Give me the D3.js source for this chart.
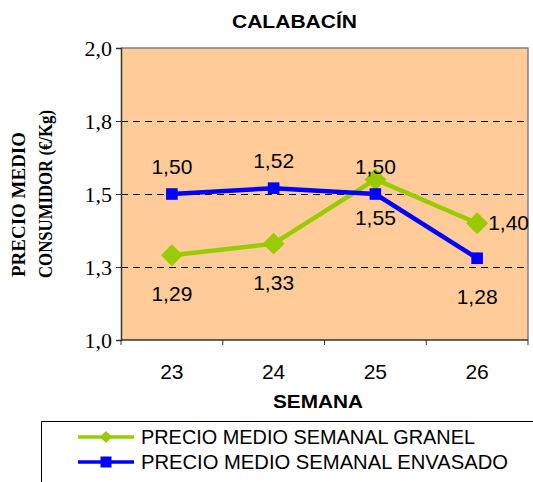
<!DOCTYPE html>
<html lang="es">
<head>
<meta charset="UTF-8">
<title>Calabacín</title>
<script src="https://cdn.jsdelivr.net/npm/d3@7"></script>
<style>
  body { margin: 0; background: #fff; }
  svg { display: block; }
</style>
</head>
<body>
<div id="chart"></div>
<script>
// datos
var semanas = ['23', '24', '25', '26'];
var granel = [1.29, 1.33, 1.55, 1.40];
var envasado = [1.50, 1.52, 1.50, 1.28];
var yTicks = [1.0, 1.25, 1.5, 1.75, 2.0];
var yTickLabels = ['1,0', '1,3', '1,5', '1,8', '2,0'];
var granelLabelPos = ['below', 'below', 'below', 'right'];
var envasadoLabelPos = ['above', 'above', 'above', 'below'];

var width = 533, height = 482;
var m = {left: 121, top: 48, right: 5, bottom: 142};
var pw = width - m.left - m.right;
var ph = height - m.top - m.bottom;
var sans = '"Liberation Sans", Arial, sans-serif';
var serif = '"Liberation Serif", "Times New Roman", serif';

var svg = d3.select('#chart').append('svg').attr('width', width).attr('height', height);

var x = d3.scaleBand().domain(semanas).range([m.left, m.left + pw]);
var y = d3.scaleLinear().domain([1, 2]).range([m.top + ph, m.top]);

// fondo
svg.append('rect').attr('x', m.left).attr('y', m.top).attr('width', pw).attr('height', ph)
   .attr('fill', '#FFCC99');

// lineas de guia
svg.selectAll('.grid').data(yTicks.slice(1, 4)).enter().append('line')
   .attr('x1', m.left).attr('x2', m.left + pw)
   .attr('y1', d => Math.round(y(d)) + 0.5).attr('y2', d => Math.round(y(d)) + 0.5)
   .attr('stroke', '#000').attr('stroke-width', 1).attr('stroke-dasharray', '7,5');

// borde arriba y derecha
svg.append('path')
   .attr('d', 'M' + m.left + ',' + m.top + 'H' + (m.left + pw) + 'V' + (m.top + ph))
   .attr('fill', 'none').attr('stroke', '#808080').attr('stroke-width', 1.5);

// eje y
var yAxis = d3.axisLeft(y).tickValues(yTicks).tickSize(5).tickPadding(4)
   .tickFormat((d, i) => yTickLabels[i]);
var gy = svg.append('g').attr('transform', 'translate(' + m.left + ',0)').call(yAxis);
gy.select('.domain').attr('stroke', '#333').attr('stroke-width', 1.5);
gy.selectAll('.tick line').attr('stroke', '#333');
gy.selectAll('text').attr('font-family', serif)
   .attr('font-size', 22).attr('fill', '#000').attr('dy', '0.34em');

// eje x
var gx = svg.append('g').attr('transform', 'translate(0,' + (m.top + ph) + ')');
gx.append('line').attr('x1', m.left).attr('x2', m.left + pw).attr('stroke', '#333').attr('stroke-width', 1.5);
var bounds = semanas.map(s => x(s)).concat([m.left + pw]);
gx.selectAll('.xt').data(bounds).enter().append('line')
   .attr('x1', d => d).attr('x2', d => d).attr('y1', 0).attr('y2', 5).attr('stroke', '#333');
gx.selectAll('.xl').data(semanas).enter().append('text')
   .attr('x', d => x(d) + x.bandwidth() / 2).attr('y', 39)
   .attr('text-anchor', 'middle').attr('font-family', sans)
   .attr('font-size', 21).text(d => d);

// titulos
svg.append('text').attr('x', 232).attr('y', 28)
   .attr('font-family', sans).attr('font-weight', 'bold')
   .attr('font-size', 18).attr('textLength', 125).attr('lengthAdjust', 'spacingAndGlyphs')
   .text('CALABACÍN');
svg.append('text').attr('x', 273).attr('y', 408)
   .attr('font-family', sans).attr('font-weight', 'bold')
   .attr('font-size', 19).attr('textLength', 90).attr('lengthAdjust', 'spacingAndGlyphs')
   .text('SEMANA');
var yt = svg.append('g').attr('transform', 'rotate(-90)')
   .attr('font-family', serif).attr('font-weight', 'bold').attr('font-size', 19);
yt.append('text').attr('x', -277).attr('y', 25)
   .attr('textLength', 145).attr('lengthAdjust', 'spacingAndGlyphs').text('PRECIO MEDIO');
yt.append('text').attr('x', -278).attr('y', 52)
   .attr('textLength', 168).attr('lengthAdjust', 'spacingAndGlyphs').text('CONSUMIDOR (€/Kg)');

// series
var cx = d => x(d) + x.bandwidth() / 2;
var line = d3.line().x((d, i) => cx(semanas[i])).y(d => y(d));

function serie(vals, color, rombo, pos) {
  svg.append('path').datum(vals).attr('d', line)
     .attr('fill', 'none').attr('stroke', color).attr('stroke-width', 4.5);
  var sym = d3.symbol().type(d3.symbolSquare).size(rombo ? 240 : 135);
  svg.selectAll(null).data(vals).enter().append('path')
     .attr('d', sym)
     .attr('transform', (d, i) => 'translate(' + cx(semanas[i]) + ',' + y(d) + ')' +
        (rombo ? ' rotate(45)' : ''))
     .attr('fill', color);
  svg.selectAll(null).data(vals).enter().append('text')
     .attr('x', (d, i) => cx(semanas[i]) + (pos[i] === 'right' ? 11 : 0))
     .attr('y', (d, i) => y(d) + (pos[i] === 'above' ? -20 : pos[i] === 'below' ? 46 : 7))
     .attr('text-anchor', (d, i) => pos[i] === 'right' ? 'start' : 'middle')
     .attr('font-family', sans).attr('font-size', 21)
     .text(d => d3.format('.2f')(d).replace('.', ','));
}
serie(granel, '#99CC00', true, granelLabelPos);
serie(envasado, '#0000FF', false, envasadoLabelPos);

// leyenda
var lg = svg.append('g');
lg.append('path').attr('d', 'M41.5,482V421.5H533').attr('fill', 'none').attr('stroke', '#000').attr('stroke-width', 1);
var items = [
  {name: 'PRECIO MEDIO SEMANAL GRANEL', color: '#99CC00', rombo: true, len: 334},
  {name: 'PRECIO MEDIO SEMANAL ENVASADO', color: '#0000FF', rombo: false, len: 367}
];
items.forEach(function(it, i) {
  var yy = 437 + i * 25;
  lg.append('line').attr('x1', 78).attr('x2', 134).attr('y1', yy).attr('y2', yy)
     .attr('stroke', it.color).attr('stroke-width', 3.5);
  lg.append('path').attr('d', d3.symbol().type(d3.symbolSquare).size(it.rombo ? 75 : 121))
     .attr('transform', 'translate(106,' + yy + ')' + (it.rombo ? ' rotate(45)' : ''))
     .attr('fill', it.color);
  lg.append('text').attr('x', 141).attr('y', yy + 7)
     .attr('font-family', sans).attr('font-size', 20)
     .attr('textLength', it.len).attr('lengthAdjust', 'spacingAndGlyphs').text(it.name);
});
</script>
</body>
</html>
